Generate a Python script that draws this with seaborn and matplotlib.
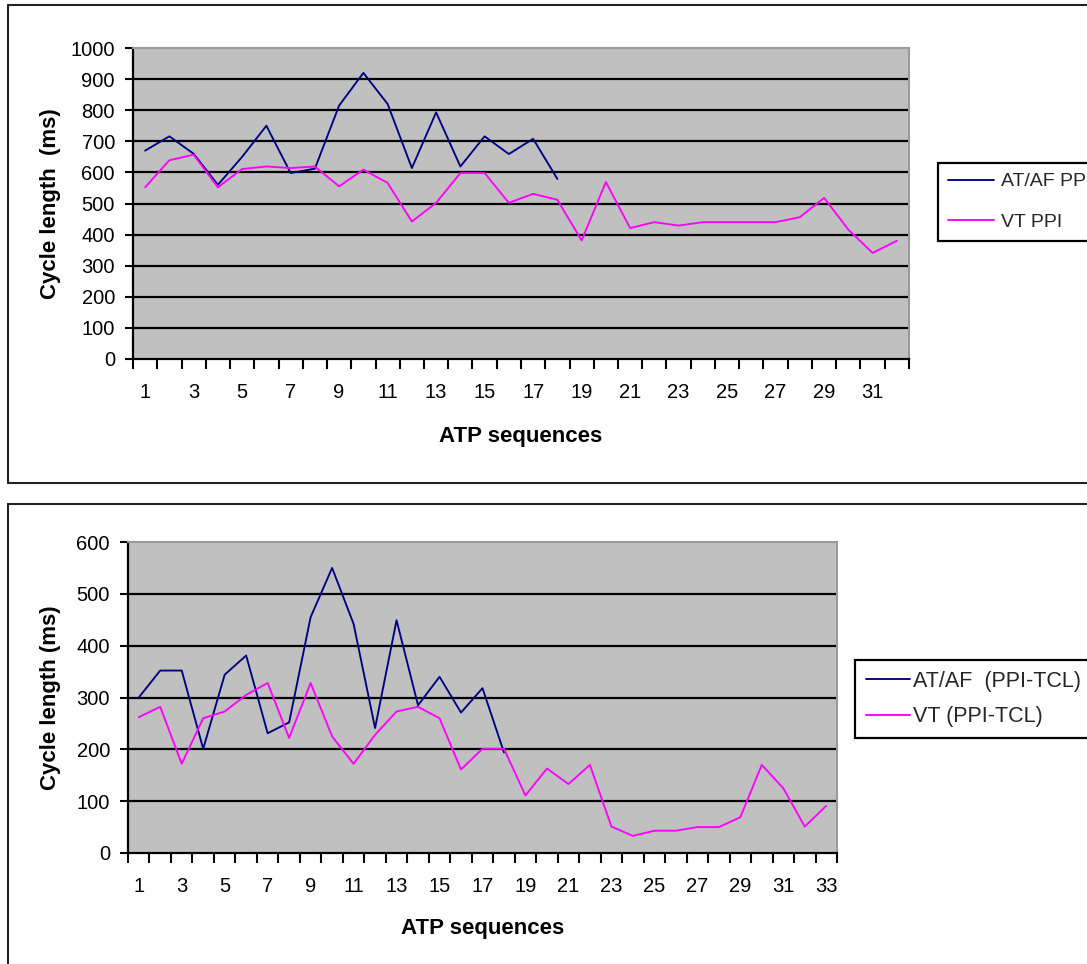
import numpy as np
import pandas as pd
import matplotlib
matplotlib.use("Agg")
import matplotlib.pyplot as plt
from matplotlib.lines import Line2D
from matplotlib.ticker import FixedLocator, NullFormatter, FixedFormatter
import seaborn as sns

sns.set_style("white")
plt.rcParams["font.family"] = ["Liberation Sans", "DejaVu Sans"]

# ---- Post-pacing interval per ATP sequence (ms) ----
ppi_atf = [670, 716, 660, 560, 650, 750, 598, 612, 815, 920, 820, 614, 793,
           619, 716, 659, 708, 579]
ppi_vt = [552, 639, 657, 552, 611, 619, 614, 619, 555, 609, 566, 442, 502,
          598, 598, 502, 531, 512, 381, 569, 421, 440, 429, 440, 440, 440,
          440, 456, 518, 416, 341, 380]

# ---- PPI minus tachycardia cycle length (ms) ----
diff_atf = [300, 352, 352, 201, 344, 381, 231, 252, 455, 550, 442, 241, 449,
            285, 340, 271, 318, 194]
diff_vt = [262, 282, 172, 260, 273, 305, 328, 222, 328, 225, 172, 228, 273,
           282, 260, 161, 201, 201, 111, 163, 133, 170, 51, 33, 43, 43, 50,
           50, 69, 170, 125, 51, 91]

top_labels = ["AT/AF PPI", "VT PPI"]
bottom_labels = ["AT/AF  (PPI-TCL)", "VT (PPI-TCL)"]
x_title = "ATP sequences"
y_title_top = "Cycle length  (ms)"
y_title_bottom = "Cycle length (ms)"

NAVY = "#000080"
MAGENTA = "#FF00FF"
W, H = 1087, 964

fig = plt.figure(figsize=(W / 100, H / 100), dpi=100)


def fx(px):
    return px / W


def fy(py):
    return 1 - py / H


# Chart-area borders around each panel
frame_kw = dict(color="#222222", linewidth=1.5, transform=fig.transFigure)
fig.add_artist(Line2D([fx(8), fx(8)], [fy(5), fy(483)], **frame_kw))
fig.add_artist(Line2D([fx(8), 1.01], [fy(5), fy(5)], **frame_kw))
fig.add_artist(Line2D([fx(8), 1.01], [fy(483), fy(483)], **frame_kw))
fig.add_artist(Line2D([fx(8), fx(8)], [fy(504), -0.01], **frame_kw))
fig.add_artist(Line2D([fx(8), 1.01], [fy(504), fy(504)], **frame_kw))


def make_panel(rect_px, series, labels, ymax, ystep, ylabel, leg_xy,
               leg_size, leg_spacing, leg_handlelen, leg_textpad,
               xlab_y, ylab_x):
    left, top, right, bottom = rect_px
    ax = fig.add_axes([fx(left), fy(bottom), (right - left) / W,
                       (bottom - top) / H])
    n = max(len(s) for s in series)

    for vals, lab, col in zip(series, labels, [NAVY, MAGENTA]):
        df = pd.DataFrame({"seq": np.arange(1, len(vals) + 1), "ms": vals})
        sns.lineplot(data=df, x="seq", y="ms", ax=ax, color=col,
                     linewidth=1.35, label=lab, zorder=3)

    ax.set_facecolor("#C0C0C0")
    ax.set_xlim(0.5, n + 0.5)
    ax.set_ylim(0, ymax)
    yt = np.arange(0, ymax + 1, ystep)
    ax.set_yticks(yt)
    ax.set_yticklabels([str(v) for v in yt])
    for v in yt[1:-1]:
        ax.axhline(v, color="black", linewidth=1.6, zorder=1)

    ax.xaxis.set_major_locator(FixedLocator(np.arange(0.5, n + 1, 1)))
    ax.xaxis.set_major_formatter(NullFormatter())
    odd = list(range(1, n + 1, 2))
    ax.xaxis.set_minor_locator(FixedLocator(odd))
    ax.xaxis.set_minor_formatter(FixedFormatter([str(i) for i in odd]))
    ax.tick_params(axis="x", which="major", bottom=True, direction="out",
                   length=7, width=1.5, color="black")
    ax.tick_params(axis="x", which="minor", bottom=True, length=0, pad=17,
                   labelsize=14.5, labelcolor="black")
    ax.tick_params(axis="y", left=True, direction="out", length=6,
                   width=1.5, color="black", pad=7, labelsize=14.5,
                   labelcolor="black")

    for side in ["left", "bottom"]:
        ax.spines[side].set_color("black")
        ax.spines[side].set_linewidth(1.6)
    for side in ["top", "right"]:
        ax.spines[side].set_color("#9A9A9A")
        ax.spines[side].set_linewidth(1.5)

    ax.set_xlabel(x_title, fontsize=16, fontweight="bold", color="black")
    ax.xaxis.set_label_coords(0.5, xlab_y)
    ax.set_ylabel(ylabel, fontsize=16, fontweight="bold", color="black")
    ax.yaxis.set_label_coords(ylab_x, 0.5)

    handles = [Line2D([], [], color=NAVY, linewidth=1.35),
               Line2D([], [], color=MAGENTA, linewidth=1.35)]
    leg = ax.legend(handles, labels, loc="upper left",
                    bbox_to_anchor=(fx(leg_xy[0]), fy(leg_xy[1])),
                    bbox_transform=fig.transFigure, borderaxespad=0,
                    frameon=True, fancybox=False, edgecolor="black",
                    facecolor="white", framealpha=1, fontsize=leg_size,
                    handlelength=leg_handlelen, handletextpad=leg_textpad,
                    labelspacing=leg_spacing, borderpad=0.5)
    leg.get_frame().set_linewidth(1.6)
    return ax


make_panel((133, 48, 909, 359), [ppi_atf, ppi_vt], top_labels, 1000, 100,
           y_title_top, (938, 163), 14, 1.2, 2.4, 0.33, -0.215, -0.093)
make_panel((128, 542, 837, 853), [diff_atf, diff_vt], bottom_labels, 600, 100,
           y_title_bottom, (855, 660), 15.5, 0.68, 2.05, 0.14, -0.21, -0.094)

fig.savefig("out.png", dpi=100)
